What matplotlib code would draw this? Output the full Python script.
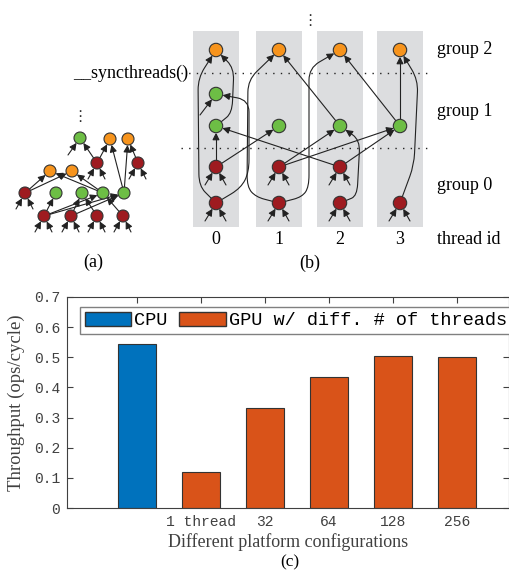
import numpy as np
import matplotlib.pyplot as plt
from matplotlib.path import Path
from matplotlib.patches import FancyArrowPatch, Circle, Rectangle, Patch

# ---------------- (c) throughput bar chart data ----------------
config_labels = ['', '1 thread', '32', '64', '128', '256']
throughput = [0.544, 0.121, 0.331, 0.433, 0.503, 0.501]
platform = ['CPU', 'GPU', 'GPU', 'GPU', 'GPU', 'GPU']
legend_labels = ['CPU', 'GPU w/ diff. # of threads']
y_ticks = [0, 0.1, 0.2, 0.3, 0.4, 0.5, 0.6, 0.7]

# ---------------- (b) thread/group diagram ----------------
thread_ids = [0, 1, 2, 3]
group_names = ['group 2', 'group 1', 'group 0']
col_x = [216, 279, 340, 400]           # pixel column of each thread
row_y = {'O': 50, 'Ga': 94, 'G': 126, 'R': 167, 'B': 203}
row_color = {'O': 'orange', 'Ga': 'green', 'G': 'green', 'R': 'red', 'B': 'red'}
b_rows = {'O': [0, 1, 2, 3], 'Ga': [0], 'G': [0, 1, 2, 3],
          'R': [0, 1, 2], 'B': [0, 1, 2, 3]}
# (src, dst, waypoints)
b_edges = [
    ('B0', 'O0', [(199, 186), (198, 78)]),
    ('B0', 'Ga0', [(241, 188), (249, 172), (249, 100)]),
    ('G0', 'O0', [(232, 113), (234, 68)]),
    ('R0', 'G0', []), ('R0', 'G1', []), ('R2', 'G0', []),
    ('R1', 'G2', []), ('R1', 'G3', []), ('R2', 'G3', []),
    ('B1', 'O1', [(256, 197), (247, 187), (248, 80)]),
    ('B1', 'O2', [(302, 197), (309, 187), (309, 68)]),
    ('G2', 'O1', []), ('G3', 'O2', []), ('G3', 'O3', []),
    ('B3', 'O3', [(414, 165), (418, 80)]),
    ('B2', 'G2', [(357, 196), (360, 140)]),
]
b_stubs = [('Ga0', -16, 21)]
for r in ['R', 'B']:
    for i in b_rows[r]:
        b_stubs += [(r + str(i), -11, 18), (r + str(i), 10, 18)]

# ---------------- (a) tree diagram ----------------
a_nodes = {
    'gt': (80, 138, 'green'), 'oa': (110, 139, 'orange'), 'ob': (128, 139, 'orange'),
    'r1': (97, 163, 'red'), 'r2': (138, 163, 'red'),
    'o1': (50, 171, 'orange'), 'o2': (72, 171, 'orange'),
    'rl': (25, 193, 'red'), 'g1': (56, 193, 'green'), 'g2': (82, 193, 'green'),
    'g3': (103, 193, 'green'), 'g4': (124, 193, 'green'),
    'b1': (44, 216, 'red'), 'b2': (71, 216, 'red'), 'b3': (97, 216, 'red'), 'b4': (123, 216, 'red'),
}
a_edges = [('r1', 'gt'), ('r1', 'oa'), ('g4', 'oa'), ('g4', 'ob'), ('r2', 'ob'),
           ('rl', 'o1'), ('rl', 'o2'), ('g3', 'o1'), ('g3', 'o2'),
           ('b1', 'g1'), ('b1', 'g3'), ('b1', 'g4'), ('b2', 'g2'), ('b2', 'g4'),
           ('b3', 'g2'), ('b4', 'g3')]
a_stubs = [('gt', -12, 17)]
for n in ['rl', 'r1', 'r2', 'b1', 'b2', 'b3', 'b4']:
    a_stubs += [(n, -9, 16), (n, 8, 16)]

colors = {'orange': '#F7941D', 'green': '#6DBE45', 'red': '#9E1B20'}
bar_colors = {'CPU': '#0072BD', 'GPU': '#D95319'}
serif = 'Liberation Serif'
mono = 'Liberation Mono'


def route_path(pts, r0, r1, rad=12):
    pts = np.array(pts, float)
    d = pts[1] - pts[0]
    pts[0] = pts[0] + r0 * d / np.linalg.norm(d)
    d = pts[-2] - pts[-1]
    pts[-1] = pts[-1] + r1 * d / np.linalg.norm(d)
    verts, codes = [pts[0]], [Path.MOVETO]
    for i in range(1, len(pts) - 1):
        p, w, n = pts[i - 1], pts[i], pts[i + 1]
        lp, ln = np.linalg.norm(p - w), np.linalg.norm(n - w)
        a = w + min(rad, lp / 2) * (p - w) / lp
        b = w + min(rad, ln / 2) * (n - w) / ln
        verts += [a, w, b]
        codes += [Path.LINETO, Path.CURVE3, Path.CURVE3]
    verts.append(pts[-1])
    codes.append(Path.LINETO)
    return Path(verts, codes)


def arrow(ax, path):
    ax.add_patch(FancyArrowPatch(path=path, arrowstyle='-|>,head_length=0.6,head_width=0.3',
                                 mutation_scale=7, lw=0.8, color='#222222',
                                 shrinkA=0, shrinkB=0, zorder=2))


def node(ax, x, y, c, r):
    ax.add_patch(Circle((x, y), r, facecolor=colors[c], edgecolor='#333333', lw=0.8, zorder=3))


fig = plt.figure(figsize=(5.1, 5.78), dpi=100)
ax = fig.add_axes([0, 0, 1, 1])
ax.set_xlim(0, 510)
ax.set_ylim(578, 0)
ax.axis('off')

# ---- (b)
for x in col_x:
    ax.add_patch(Rectangle((x - 23, 31), 46, 196, facecolor='#DCDDDF', edgecolor='none', zorder=0))
for yy in [73, 148]:
    ax.plot([181, 433], [yy, yy], color='#222222', lw=1.0, ls=(0, (1, 4.5)), zorder=1)

bpos = {}
for r, cols in b_rows.items():
    for i in cols:
        bpos[r + str(i)] = (col_x[i], row_y[r], row_color[r])
rb = 6.7
for src, dst, wp in b_edges:
    s, d = bpos[src], bpos[dst]
    arrow(ax, route_path([s[:2]] + wp + [d[:2]], rb, rb))
for dst, dx, dy in b_stubs:
    d = bpos[dst]
    arrow(ax, route_path([(d[0] + dx, d[1] + dy), d[:2]], 0, rb))
for x, y, c in bpos.values():
    node(ax, x, y, c, rb)

ax.text(310, 20, '\u22ee', ha='center', va='center', fontsize=11, color='#333333')
ax.text(188, 73, '__syncthreads()', ha='right', va='center', fontsize=13, family=serif)
for name, y in zip(group_names, [row_y['O'], 111, 185]):
    ax.text(437, y, name, ha='left', va='center', fontsize=13, family=serif)
for i, x in zip(thread_ids, col_x):
    ax.text(x, 239, str(i), ha='center', va='center', fontsize=13, family=serif)
ax.text(437, 239, 'thread id', ha='left', va='center', fontsize=13, family=serif)
ax.text(310, 263, '(b)', ha='center', va='center', fontsize=13, family=serif)

# ---- (a)
ra = 6.0
for s, d in a_edges:
    arrow(ax, route_path([a_nodes[s][:2], a_nodes[d][:2]], ra, ra))
for dst, dx, dy in a_stubs:
    d = a_nodes[dst]
    arrow(ax, route_path([(d[0] + dx, d[1] + dy), d[:2]], 0, ra))
for x, y, c in a_nodes.values():
    node(ax, x, y, c, ra)
ax.text(80, 117, '\u22ee', ha='center', va='center', fontsize=11, color='#333333')
ax.text(93, 262, '(a)', ha='center', va='center', fontsize=13, family=serif)

# ---- (c)
ax2 = fig.add_axes([67 / 510, 70 / 578, 442 / 510, 211 / 578])
xpos = np.arange(1, len(throughput) + 1)
ax2.bar(xpos, throughput, width=0.6, color=[bar_colors[p] for p in platform],
        edgecolor='#333333', linewidth=0.8, zorder=2)
ax2.set_xlim(1 - 70 / 64, 6 + 52 / 64)
ax2.set_ylim(0, 0.7)
ax2.set_xticks(xpos)
ax2.set_xticklabels(config_labels, family=mono, fontsize=10.5, color='#404040')
ax2.set_yticks(y_ticks)
ax2.set_yticklabels([('%g' % v) for v in y_ticks], family=mono, fontsize=10.5, color='#404040')
ax2.tick_params(direction='in', top=True, right=True, length=4, width=0.8, color='#404040', pad=5)
for sp in ax2.spines.values():
    sp.set_color('#404040')
    sp.set_linewidth(0.8)
ax2.set_xlabel('Different platform configurations', family=serif, fontsize=13,
               color='#404040', labelpad=3)
ax2.set_ylabel('Throughput (ops/cycle)', family=serif, fontsize=13.5, color='#404040', labelpad=6)
handles = [Patch(facecolor=bar_colors['CPU'], edgecolor='#333333'),
           Patch(facecolor=bar_colors['GPU'], edgecolor='#333333')]
leg = ax2.legend(handles, legend_labels, ncol=2, loc='upper left',
                 bbox_to_anchor=(80 / 510, 1 - 307 / 578), bbox_transform=fig.transFigure,
                 borderaxespad=0, prop={'family': mono, 'size': 13.4}, fancybox=False,
                 handlelength=2.5, handleheight=0.8, handletextpad=0.15, columnspacing=0.65,
                 borderpad=0.25, framealpha=1)
leg.get_frame().set_edgecolor('#808080')
leg.get_frame().set_linewidth(1.0)
ax.text(290, 562, '(c)', ha='center', va='center', fontsize=12.5, family=serif)

fig.savefig('out.png', dpi=100)
